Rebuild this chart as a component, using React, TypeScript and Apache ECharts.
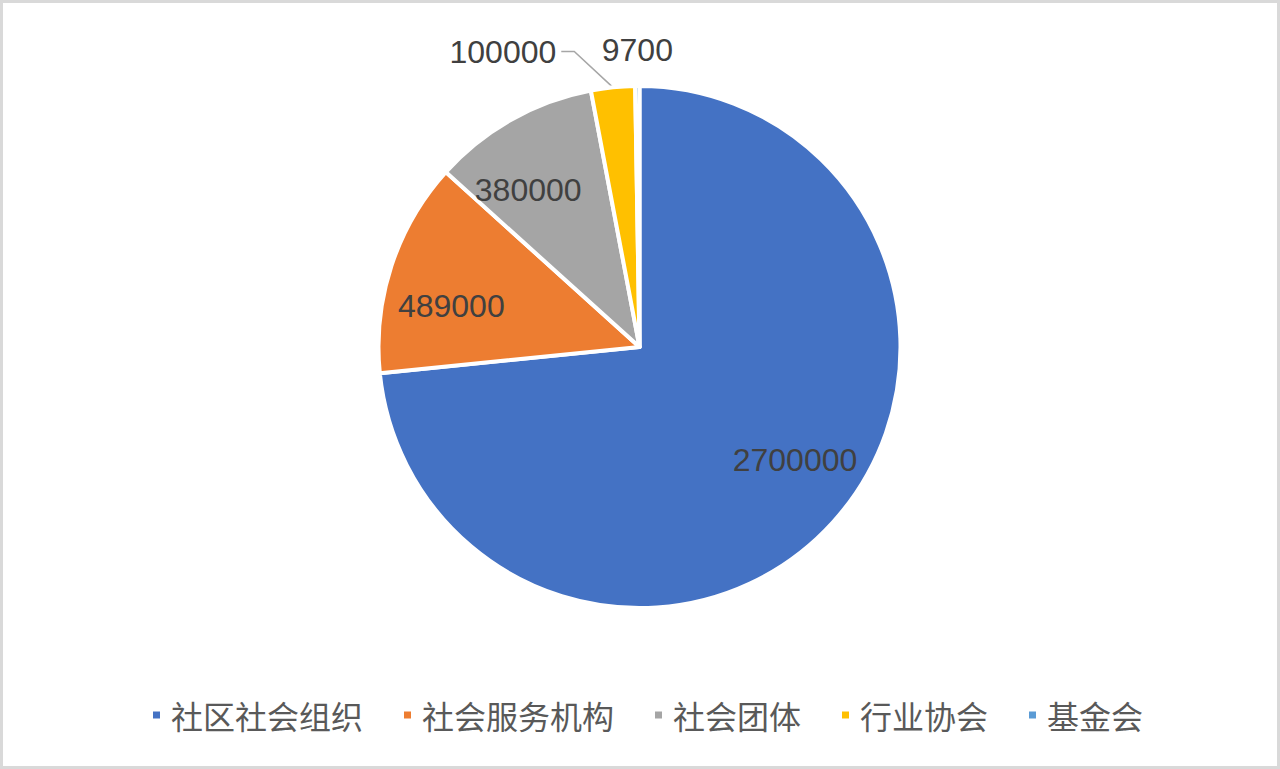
import React, { useEffect, useRef } from "react";
import * as echarts from "echarts";

const categories = ["社区社会组织", "社会服务机构", "社会团体", "行业协会", "基金会"];
const values = [2700000, 489000, 380000, 100000, 9700];
const colors = ["#4472C4", "#ED7D31", "#A5A5A5", "#FFC000", "#5B9BD5"];
// which slices carry their value label inside the pie
const insideLabel = [true, true, true, false, false];

export default function App() {
  const ref = useRef<HTMLDivElement>(null);
  useEffect(() => {
    if (!ref.current) return;
    const chart = echarts.init(ref.current, null, { renderer: "svg" });
    const R = 261;
    const center = [639.5, 347];
    const labelFont = {
      fontFamily: "'Liberation Sans', Arial, sans-serif",
      fontSize: 32,
      color: "#404040",
      formatter: "{c}",
    };
    const mainData = categories.map((name, i) => ({
      name,
      value: values[i],
      label: { show: !insideLabel[i] },
      labelLine: { show: i === 3 },
    }));
    const overlayData = categories.map((name, i) => ({
      name,
      value: values[i],
      label: { show: insideLabel[i], position: "inside" },
      labelLine: { show: false },
    }));
    chart.setOption({
      animation: false,
      color: colors,
      legend: {
        data: categories,
        left: 151,
        top: 699,
        padding: 0,
        icon: "rect",
        itemWidth: 9,
        itemHeight: 9,
        itemGap: 39,
        textStyle: {
          fontFamily: "'Noto Sans CJK SC', sans-serif",
          fontSize: 32,
          color: "#595959",
          padding: [0, 0, 0, 5],
        },
      },
      series: [
        {
          type: "pie",
          center,
          radius: [0, R],
          startAngle: 90,
          clockwise: true,
          avoidLabelOverlap: false,
          silent: true,
          itemStyle: { borderColor: "#ffffff", borderWidth: 4 },
          label: { ...labelFont, position: "outside" },
          labelLine: {
            length: 36,
            length2: 48,
            lineStyle: { color: "#A6A6A6", width: 1.5 },
          },
          labelLayout: (params: any) => {
            if (params.dataIndex === 4) {
              return {
                x: params.rect.x + params.rect.width / 2,
                align: "center",
              };
            }
            const pts = params.labelLinePoints;
            if (params.dataIndex === 3 && pts && pts.length === 3) {
              return {
                labelLinePoints: [pts[0], [pts[2][0] + 13, pts[1][1]], pts[2]],
              };
            }
            return {};
          },
          data: mainData,
        },
        {
          type: "pie",
          center,
          radius: [118, R],
          startAngle: 96,
          clockwise: true,
          avoidLabelOverlap: false,
          silent: true,
          itemStyle: { color: "rgba(0,0,0,0)", borderWidth: 0 },
          label: { ...labelFont },
          labelLine: { show: false },
          data: overlayData,
        },
      ],
    });
    return () => chart.dispose();
  }, []);
  return (
    <div
      style={{
        position: "absolute",
        left: 0,
        top: 0,
        width: 1280,
        height: 769,
        boxSizing: "border-box",
        border: "3px solid #D9D9D9",
        background: "#fff",
      }}
    >
      <div ref={ref} style={{ position: "absolute", left: -3, top: -3, width: 1280, height: 769 }} />
    </div>
  );
}
